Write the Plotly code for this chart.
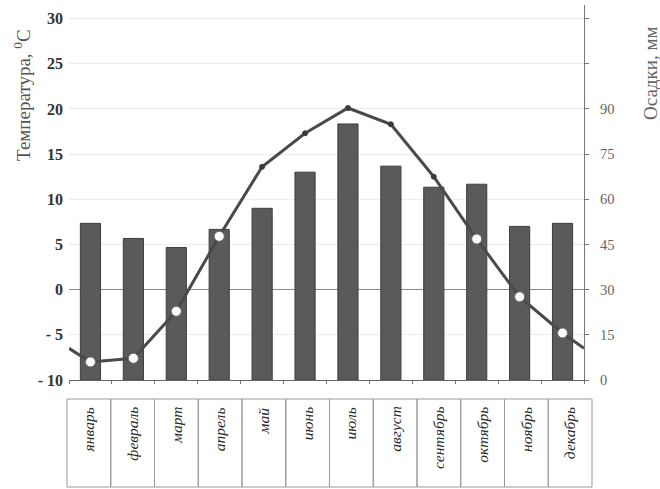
import plotly.graph_objects as go

# ---- data ----
months = ['январь', 'февраль', 'март', 'апрель', 'май', 'июнь',
          'июль', 'август', 'сентябрь', 'октябрь', 'ноябрь', 'декабрь']
temperature = [-8.0, -7.6, -2.4, 5.9, 13.6, 17.3, 20.1, 18.3, 12.5, 5.6, -0.8, -4.8]
precipitation = [52, 47, 44, 50, 57, 69, 85, 71, 64, 65, 51, 52]
hollow_marker = [True, True, True, True, False, False, False, False, False, True, True, True]
edge_temperature = -6.5          # value of the curve at the Dec/Jan border (plot edges)
temp_ticks = [-10, -5, 0, 5, 10, 15, 20, 25, 30]
temp_tick_labels = ['- 10', '- 5', '0', '5', '10', '15', '20', '25', '30']
prec_ticks = [0, 15, 30, 45, 60, 75, 90]
prec_tick_labels = ['0', '15', '30', '45', '60', '75', '90']

W, H = 660, 489
ML, MR, MT, MB = 67, 68, 5, 2
pw, ph = W - ML - MR, H - MT - MB


def px_x(p):
    return (p - ML) / pw


def px_y(p):
    return (H - MB - p) / ph


SERIF = 'Liberation Serif, Times New Roman, serif'
n = len(months)
xs = list(range(n))

fig = go.Figure()

fig.add_trace(go.Bar(
    x=xs, y=precipitation, yaxis='y', xaxis='x',
    width=0.47,
    marker=dict(color='#5a5a5a', line=dict(color='#3e3e3e', width=1)),
    hoverinfo='skip', showlegend=False,
))

line_x = [-0.5] + xs + [n - 0.5]
line_y = [edge_temperature] + temperature + [edge_temperature]
fig.add_trace(go.Scatter(
    x=line_x, y=line_y, xaxis='x', yaxis='y2', mode='lines',
    line=dict(color='#4a4a4a', width=3),
    hoverinfo='skip', showlegend=False,
))
fig.add_trace(go.Scatter(
    x=xs, y=temperature, xaxis='x', yaxis='y2', mode='markers',
    marker=dict(
        size=[10 if h else 5 for h in hollow_marker],
        color=['#ffffff' if h else '#3a3a3a' for h in hollow_marker],
        line=dict(color=['#6a6a6a' if h else '#3a3a3a' for h in hollow_marker], width=1),
        opacity=1,
    ),
    hoverinfo='skip', showlegend=False, cliponaxis=False,
))

plot_left, plot_right, plot_top, plot_bottom = 69, 584, 5, 380
table_left, table_right, table_top, table_bottom = 67, 592, 399, 487
cell_w = (table_right - table_left) / n

shapes = []
annotations = []
for i, m in enumerate(months):
    shapes.append(dict(type='rect', xref='paper', yref='paper',
                       x0=px_x(table_left + i * cell_w), x1=px_x(table_left + (i + 1) * cell_w),
                       y0=px_y(table_bottom), y1=px_y(table_top),
                       line=dict(color='#9a9a9a', width=1)))
    annotations.append(dict(x=px_x(table_left + (i + 0.5) * cell_w), y=px_y(405),
                            xref='paper', yref='paper', text=m,
                            textangle=-90, showarrow=False, xanchor='center', yanchor='top',
                            font=dict(family=SERIF, size=15.5, color='#2a2a2a', style='italic')))

annotations.append(dict(x=px_x(22), y=px_y(95), xref='paper', yref='paper',
                        xanchor='center', yanchor='middle',
                        text='Температура, <sup>0</sup>C', textangle=-90, showarrow=False,
                        font=dict(family=SERIF, size=19, color='#555')))
annotations.append(dict(x=px_x(650), y=px_y(74), xref='paper', yref='paper',
                        xanchor='center', yanchor='middle',
                        text='Осадки, мм', textangle=-90, showarrow=False,
                        font=dict(family=SERIF, size=19, color='#666')))

fig.update_layout(
    width=W, height=H, autosize=False,
    margin=dict(l=ML, r=MR, t=MT, b=MB, pad=0, autoexpand=False),
    paper_bgcolor='white', plot_bgcolor='white',
    xaxis=dict(domain=[px_x(plot_left), px_x(plot_right)], range=[-0.5, n - 0.5],
               tickmode='array', tickvals=[i - 0.5 for i in range(n + 1)],
               showticklabels=False, ticks='outside', ticklen=3, tickcolor='#777',
               showline=True, linecolor='#666', linewidth=1, showgrid=False,
               zeroline=False, anchor='y', fixedrange=True, automargin=False),
    yaxis=dict(domain=[px_y(plot_bottom), px_y(plot_top)], side='right', anchor='x',
               range=[0, 3 * (31.5 + 10)], tickmode='array', tickvals=prec_ticks,
               ticktext=prec_tick_labels, ticks='outside', ticklen=4, tickcolor='#777',
               minor=dict(tickmode='linear', tick0=0, dtick=15, ticks='outside',
                          ticklen=4, tickcolor='#777', showgrid=False),
               showline=True, linecolor='#777', linewidth=1, showgrid=False,
               zeroline=False, ticklabelstandoff=8, automargin=False,
               tickfont=dict(family=SERIF, size=14.5, color='#666')),
    yaxis2=dict(overlaying='y', side='left', anchor='x', range=[-10, 31.5],
                tickmode='array', tickvals=temp_ticks, ticktext=temp_tick_labels,
                ticks='', showline=False, showgrid=True, gridcolor='#ececec', gridwidth=1,
                zeroline=True, zerolinecolor='#8a8a8a', zerolinewidth=1,
                ticklabelstandoff=5, automargin=False,
                tickfont=dict(family=SERIF, size=16, color='#333', weight='bold')),
    shapes=shapes,
    annotations=annotations,
)

fig.write_html('out.html', config={'displayModeBar': False},
               post_script="document.body.style.margin='0';document.body.style.padding='0';")
